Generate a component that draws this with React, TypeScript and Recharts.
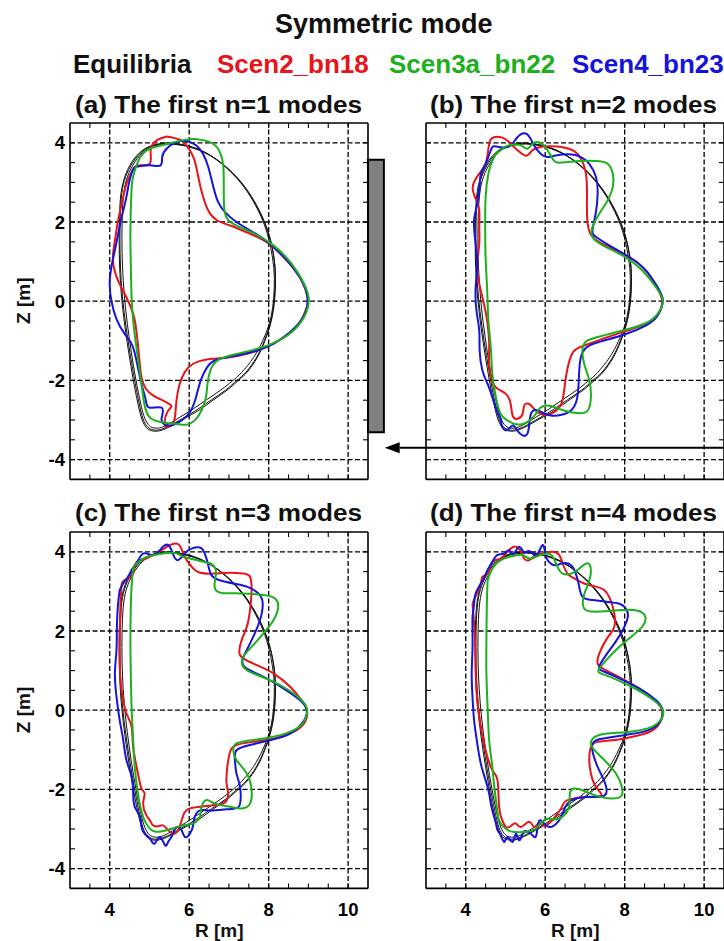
import React from 'react';
import { LineChart, Line, XAxis, YAxis, ReferenceArea, ReferenceLine } from 'recharts';

type Pt = [number, number];

const FONT = "'Liberation Sans', Arial, Helvetica, sans-serif";

// Axis ranges and ticks (R and Z in metres)
const R_DOMAIN: [number, number] = [3, 10.5];
const Z_DOMAIN: [number, number] = [-4.5, 4.5];
const R_LABEL_TICKS = [4, 6, 8, 10];
const Z_LABEL_TICKS = [-4, -2, 0, 2, 4];
const R_MINOR_TICKS = [3.5, 4, 4.5, 5, 5.5, 6, 6.5, 7, 7.5, 8, 8.5, 9, 9.5, 10];
const Z_MINOR_TICKS = [-4, -3.5, -3, -2.5, -2, -1.5, -1, -0.5, 0, 0.5, 1, 1.5, 2, 2.5, 3, 3.5, 4];

const FIGURE_TITLE = 'Symmetric mode';
const SERIES_NAMES = ['Equilibria', 'Scen2_bn18', 'Scen3a_bn22', 'Scen4_bn23'];
const SERIES_COLORS = ['#111111', '#e8141a', '#1cb01c', '#1414dc'];
const PANEL_TITLES = [
  '(a) The first n=1 modes',
  '(b) The first n=2 modes',
  '(c) The first n=3 modes',
  '(d) The first n=4 modes',
];

// Equilibrium boundaries (R, Z)
const eqScen2: Pt[] = [
  [5.45, 4.0], [5.8, 3.96], [6.2, 3.85], [6.6, 3.64], [7.0, 3.33], [7.36, 2.94], [7.68, 2.45],
  [7.93, 1.92], [8.08, 1.4], [8.16, 0.85], [8.17, 0.35], [8.13, -0.15], [8.04, -0.6], [7.91, -0.99],
  [7.72, -1.41], [7.46, -1.79], [7.24, -2.0], [6.95, -2.25], [6.6, -2.5], [6.25, -2.75], [5.85, -2.98],
  [5.55, -3.15], [5.3, -3.26], [5.1, -3.28], [4.93, -3.2], [4.8, -2.95], [4.68, -2.45], [4.56, -1.8],
  [4.44, -1.05], [4.34, -0.3], [4.27, 0.45], [4.24, 1.2], [4.24, 1.95], [4.27, 2.6], [4.35, 3.05],
  [4.5, 3.42], [4.74, 3.74], [5.06, 3.93],
];
const eqScen3a: Pt[] = [
  [5.5, 3.97], [5.85, 3.93], [6.25, 3.81], [6.65, 3.6], [7.03, 3.28], [7.38, 2.88], [7.68, 2.4],
  [7.91, 1.88], [8.05, 1.36], [8.13, 0.83], [8.14, 0.33], [8.1, -0.17], [8.0, -0.62], [7.84, -1.02],
  [7.62, -1.42], [7.32, -1.8], [7.08, -2.02], [6.8, -2.24], [6.45, -2.48], [6.1, -2.72], [5.75, -2.94],
  [5.45, -3.12], [5.25, -3.2], [5.07, -3.19], [4.94, -3.07], [4.83, -2.8], [4.72, -2.3], [4.6, -1.65],
  [4.49, -0.92], [4.4, -0.2], [4.34, 0.52], [4.31, 1.22], [4.31, 1.95], [4.34, 2.6], [4.42, 3.06],
  [4.58, 3.43], [4.82, 3.75], [5.12, 3.92],
];
const eqScen4: Pt[] = [
  [5.47, 3.99], [5.81, 3.95], [6.21, 3.84], [6.61, 3.63], [7.0, 3.32], [7.36, 2.93], [7.68, 2.44],
  [7.92, 1.91], [8.08, 1.39], [8.16, 0.85], [8.16, 0.35], [8.12, -0.15], [8.03, -0.6], [7.89, -1.0],
  [7.7, -1.41], [7.43, -1.79], [7.2, -2.0], [6.91, -2.25], [6.56, -2.49], [6.2, -2.74], [5.82, -2.97],
  [5.52, -3.14], [5.28, -3.24], [5.09, -3.25], [4.93, -3.15], [4.81, -2.88], [4.7, -2.38], [4.58, -1.73],
  [4.46, -0.99], [4.36, -0.26], [4.29, 0.48], [4.26, 1.21], [4.26, 1.95], [4.29, 2.6], [4.37, 3.05],
  [4.53, 3.42], [4.77, 3.74], [5.08, 3.93],
];

// n=1 perturbed boundaries
const n1Scen2: Pt[] = [
  [5.43, 4.16], [5.76, 4.08], [5.95, 3.91], [6.12, 3.6], [6.23, 3.13], [6.34, 2.67], [6.48, 2.29],
  [6.69, 2.05], [7.03, 1.91], [7.45, 1.74], [7.95, 1.49], [8.45, 1.03], [8.83, 0.52], [8.98, 0.1],
  [8.96, -0.15], [8.79, -0.53], [8.45, -0.87], [7.95, -1.15], [7.45, -1.33], [6.94, -1.43], [6.44, -1.47],
  [6.1, -1.58], [5.89, -1.79], [5.75, -2.13], [5.68, -2.51], [5.65, -2.85], [5.6, -3.08], [5.47, -3.17],
  [5.38, -3.08], [5.46, -2.78], [5.55, -2.64], [5.34, -2.51], [5.09, -2.38], [4.91, -2.21], [4.8, -1.92],
  [4.74, -1.41], [4.67, -0.74], [4.59, -0.32], [4.42, 0.1], [4.21, 0.52], [4.08, 1.03], [4.13, 1.53],
  [4.21, 2.04], [4.32, 2.54], [4.42, 2.96], [4.55, 3.26], [4.71, 3.43], [5.01, 3.47], [5.03, 3.81],
  [5.18, 4.06],
];
const n1Scen3a: Pt[] = [
  [4.63, 3.3], [4.77, 3.64], [5.01, 3.85], [5.43, 3.97], [5.93, 4.08], [6.27, 4.08], [6.61, 3.97],
  [6.79, 3.72], [6.86, 3.39], [6.87, 2.88], [6.88, 2.37], [6.96, 2.08], [7.19, 1.91], [7.61, 1.72],
  [8.12, 1.41], [8.58, 0.94], [8.89, 0.44], [9.01, 0.02], [8.89, -0.4], [8.58, -0.78], [8.12, -1.06],
  [7.61, -1.23], [7.11, -1.35], [6.73, -1.48], [6.54, -1.73], [6.46, -2.09], [6.42, -2.43], [6.31, -2.76],
  [6.14, -3.01], [5.93, -3.12], [5.68, -3.1], [5.39, -3.07], [5.13, -3.01], [4.97, -2.89], [4.88, -2.64],
  [4.82, -2.26], [4.74, -1.67], [4.66, -1.08], [4.59, -0.49], [4.55, 0.1], [4.53, 0.94], [4.52, 1.79],
  [4.54, 2.63], [4.57, 3.05],
];
const n1Scen4: Pt[] = [
  [4.63, 3.39], [5.01, 3.43], [5.28, 3.43], [5.32, 3.64], [5.43, 3.85], [5.68, 4.02], [5.95, 4.04],
  [6.18, 3.93], [6.35, 3.72], [6.48, 3.39], [6.61, 2.88], [6.73, 2.5], [6.9, 2.25], [7.19, 2.0],
  [7.61, 1.74], [8.03, 1.45], [8.54, 0.94], [8.87, 0.44], [8.98, 0.02], [8.87, -0.4], [8.54, -0.78],
  [8.12, -1.08], [7.7, -1.25], [7.19, -1.37], [6.69, -1.48], [6.45, -1.67], [6.29, -2.0], [6.17, -2.43],
  [6.02, -2.8], [5.81, -3.01], [5.53, -3.14], [5.34, -3.08], [5.31, -2.93], [5.31, -2.69], [5.01, -2.69],
  [4.91, -2.51], [4.8, -2.09], [4.69, -1.58], [4.57, -1.12], [4.38, -0.83], [4.17, -0.45], [4.04, 0.02],
  [4.0, 0.52], [4.08, 1.06], [4.18, 1.53], [4.28, 2.04], [4.4, 2.54], [4.48, 2.96], [4.56, 3.26],
];

// n=2 perturbed boundaries
const n2Scen2: Pt[] = [
  [4.61, 4.06], [4.71, 4.14], [4.92, 4.13], [5.09, 4.02], [5.26, 3.85], [5.43, 3.71], [5.55, 3.68],
  [5.68, 3.81], [5.85, 3.89], [6.1, 3.91], [6.44, 3.89], [6.73, 3.79], [6.9, 3.6], [7.01, 3.3],
  [7.05, 2.88], [7.05, 2.37], [7.07, 1.95], [7.15, 1.68], [7.36, 1.49], [7.7, 1.32], [8.12, 1.11],
  [8.45, 0.86], [8.71, 0.52], [8.89, 0.19], [8.94, -0.07], [8.79, -0.4], [8.45, -0.61], [7.95, -0.78],
  [7.45, -0.95], [6.98, -1.12], [6.73, -1.25], [6.61, -1.5], [6.52, -1.92], [6.45, -2.43], [6.35, -2.69],
  [6.14, -2.85], [5.89, -2.85], [5.72, -2.72], [5.58, -2.59], [5.47, -2.64], [5.43, -2.85], [5.3, -2.97],
  [5.18, -2.89], [5.13, -2.59], [5.01, -2.34], [4.8, -2.21], [4.66, -2.0], [4.59, -1.58], [4.59, -1.08],
  [4.55, -0.57], [4.46, -0.07], [4.34, 0.44], [4.29, 0.94], [4.34, 1.45], [4.34, 1.87], [4.34, 2.29],
  [4.27, 2.54], [4.18, 2.8], [4.21, 3.01], [4.34, 3.22], [4.5, 3.47], [4.57, 3.85],
];
const n2Scen3a: Pt[] = [
  [4.76, 3.72], [5.01, 3.91], [5.26, 3.96], [5.42, 3.92], [5.55, 3.85], [5.68, 3.97], [5.81, 4.02],
  [5.97, 3.93], [6.14, 3.68], [6.27, 3.51], [6.52, 3.51], [6.86, 3.54], [7.28, 3.54], [7.57, 3.47],
  [7.7, 3.22], [7.7, 2.88], [7.57, 2.54], [7.36, 2.21], [7.19, 1.87], [7.19, 1.62], [7.45, 1.41],
  [7.95, 1.15], [8.45, 0.77], [8.79, 0.35], [8.96, 0.02], [8.83, -0.32], [8.5, -0.57], [7.95, -0.74],
  [7.45, -0.87], [7.07, -0.99], [6.94, -1.2], [6.98, -1.58], [7.11, -2.0], [7.15, -2.43], [7.07, -2.76],
  [6.86, -2.83], [6.61, -2.8], [6.35, -2.72], [6.1, -2.64], [5.89, -2.68], [5.76, -2.85], [5.61, -3.01],
  [5.43, -3.1], [5.22, -3.1], [5.05, -3.01], [4.88, -2.85], [4.76, -2.43], [4.67, -1.84], [4.63, -1.16],
  [4.57, -0.49], [4.54, 0.27], [4.5, 1.11], [4.49, 1.95], [4.5, 2.63], [4.57, 3.22], [4.67, 3.55],
];
const n2Scen4: Pt[] = [
  [5.18, 3.97], [5.3, 4.14], [5.47, 4.24], [5.61, 4.14], [5.72, 3.93], [5.89, 3.72], [6.06, 3.64],
  [6.27, 3.68], [6.61, 3.71], [6.9, 3.64], [7.11, 3.47], [7.28, 3.13], [7.32, 2.71], [7.27, 2.21],
  [7.19, 1.79], [7.28, 1.62], [7.61, 1.41], [8.12, 1.11], [8.54, 0.77], [8.83, 0.35], [8.96, 0.02],
  [8.83, -0.36], [8.54, -0.61], [8.03, -0.83], [7.53, -0.98], [7.11, -1.12], [6.94, -1.29], [6.87, -1.58],
  [6.84, -2.09], [6.79, -2.51], [6.65, -2.76], [6.44, -2.86], [6.18, -2.89], [5.97, -2.83], [5.76, -2.75],
  [5.64, -2.85], [5.6, -3.1], [5.55, -3.35], [5.43, -3.39], [5.3, -3.27], [5.18, -3.14], [5.05, -3.25],
  [4.92, -3.18], [4.88, -2.97], [4.8, -2.8], [4.67, -2.43], [4.55, -2.09], [4.42, -1.75], [4.35, -1.25],
  [4.34, -0.74], [4.27, -0.24], [4.25, 0.35], [4.29, 0.94], [4.24, 1.53], [4.21, 2.04], [4.29, 2.46],
  [4.35, 2.88], [4.38, 3.22], [4.5, 3.47], [4.63, 3.81], [4.71, 3.91], [4.88, 3.89], [5.05, 3.89],
];

// n=3 perturbed boundaries
const n3Scen2: Pt[] = [
  [4.29, 3.03], [4.32, 3.24], [4.46, 3.33], [4.59, 3.45], [4.63, 3.66], [4.76, 3.79], [4.92, 3.83],
  [5.09, 3.92], [5.3, 4.04], [5.51, 4.17], [5.68, 4.21], [5.78, 4.13], [5.85, 3.96], [5.95, 3.77],
  [6.1, 3.58], [6.27, 3.47], [6.61, 3.45], [7.03, 3.47], [7.36, 3.45], [7.53, 3.37], [7.57, 3.03],
  [7.53, 2.53], [7.45, 2.11], [7.32, 1.77], [7.26, 1.47], [7.36, 1.31], [7.7, 1.14], [8.12, 0.93],
  [8.54, 0.59], [8.83, 0.25], [8.96, 0], [8.92, -0.29], [8.62, -0.55], [8.12, -0.72], [7.61, -0.8],
  [7.19, -0.88], [7.03, -1.05], [6.96, -1.43], [6.94, -1.85], [6.98, -2.15], [6.86, -2.36], [6.61, -2.4],
  [6.27, -2.44], [6.02, -2.48], [5.89, -2.57], [5.81, -2.78], [5.72, -3.03], [5.6, -3.12], [5.47, -3.03],
  [5.34, -2.91], [5.22, -2.93], [5.08, -2.9], [5.01, -2.78], [4.92, -2.65], [4.84, -2.36], [4.88, -2.11],
  [4.8, -1.98], [4.71, -1.6], [4.59, -0.93], [4.55, -0.42], [4.42, -0.08], [4.34, 0.25], [4.27, 0.76],
  [4.25, 1.35], [4.25, 1.94], [4.27, 2.44], [4.27, 2.69],
];
const n3Scen3a: Pt[] = [
  [4.59, 3.62], [4.84, 3.83], [5.13, 3.92], [5.43, 3.97], [5.68, 3.96], [5.85, 3.87], [6.02, 3.83],
  [6.27, 3.77], [6.52, 3.71], [6.67, 3.54], [6.65, 3.28], [6.65, 3.07], [6.82, 2.96], [7.28, 2.95],
  [7.87, 2.91], [8.16, 2.82], [8.24, 2.61], [8.12, 2.27], [7.87, 1.94], [7.57, 1.6], [7.36, 1.35],
  [7.34, 1.14], [7.53, 0.97], [8.03, 0.76], [8.5, 0.51], [8.83, 0.25], [8.97, 0], [8.89, -0.29],
  [8.62, -0.51], [8.12, -0.67], [7.57, -0.76], [7.19, -0.84], [7.11, -1.01], [7.19, -1.26], [7.45, -1.6],
  [7.57, -2.02], [7.53, -2.36], [7.32, -2.48], [7.03, -2.44], [6.65, -2.36], [6.44, -2.27], [6.31, -2.44],
  [6.27, -2.69], [6.1, -2.86], [5.85, -2.91], [5.64, -2.97], [5.43, -3.03], [5.18, -3.07], [5.01, -2.99],
  [4.84, -2.69], [4.71, -2.11], [4.63, -1.43], [4.59, -0.76], [4.55, 0.08], [4.53, 0.93], [4.52, 1.77],
  [4.53, 2.61], [4.55, 3.12],
];
const n3Scen4: Pt[] = [
  [4.25, 3.03], [4.34, 3.2], [4.46, 3.37], [4.55, 3.54], [4.67, 3.71], [4.8, 3.92], [4.92, 3.96],
  [5.09, 3.92], [5.26, 4.04], [5.39, 4.17], [5.51, 4.13], [5.6, 3.92], [5.72, 3.79], [5.89, 3.96],
  [6.06, 4.08], [6.27, 4.11], [6.39, 3.96], [6.48, 3.66], [6.56, 3.41], [6.77, 3.28], [7.11, 3.2],
  [7.45, 3.12], [7.74, 2.95], [7.85, 2.69], [7.78, 2.27], [7.61, 1.85], [7.45, 1.52], [7.34, 1.26],
  [7.45, 1.05], [7.87, 0.84], [8.37, 0.55], [8.79, 0.25], [8.96, 0], [8.87, -0.29], [8.54, -0.59],
  [8.03, -0.76], [7.53, -0.88], [7.19, -1.01], [7.15, -1.26], [7.19, -1.6], [7.28, -1.94], [7.28, -2.36],
  [7.15, -2.48], [6.86, -2.51], [6.52, -2.53], [6.27, -2.53], [6.14, -2.69], [6.1, -2.9], [6.02, -3.12],
  [5.89, -3.2], [5.81, -3.03], [5.68, -2.95], [5.58, -3.15], [5.47, -3.33], [5.39, -3.41], [5.26, -3.2],
  [5.13, -3.37], [5.01, -3.24], [4.88, -3.12], [4.8, -2.95], [4.76, -2.69], [4.63, -2.44], [4.59, -2.11],
  [4.55, -1.68], [4.42, -1.26], [4.34, -0.76], [4.25, -0.25], [4.17, 0.34], [4.13, 0.93], [4.17, 1.52],
  [4.18, 2.11], [4.21, 2.69],
];

// n=4 perturbed boundaries
const n4Scen2: Pt[] = [
  [4.17, 2.69], [4.24, 2.86], [4.38, 3.2], [4.42, 3.37], [4.55, 3.45], [4.63, 3.66], [4.74, 3.79],
  [4.88, 3.83], [5.01, 3.96], [5.13, 4.08], [5.26, 4.13], [5.39, 4.0], [5.47, 3.83], [5.6, 3.79],
  [5.76, 3.92], [5.93, 3.96], [6.18, 4.0], [6.35, 3.92], [6.44, 3.71], [6.56, 3.45], [6.73, 3.33],
  [6.98, 3.2], [7.28, 3.12], [7.49, 3.03], [7.61, 2.86], [7.7, 2.61], [7.76, 2.27], [7.7, 2.02],
  [7.53, 1.77], [7.36, 1.43], [7.32, 1.18], [7.45, 1.05], [7.78, 0.88], [8.29, 0.59], [8.71, 0.29],
  [8.94, 0], [8.87, -0.34], [8.62, -0.55], [8.2, -0.67], [7.7, -0.76], [7.32, -0.8], [7.15, -0.93],
  [7.11, -1.26], [7.15, -1.6], [7.28, -1.94], [7.41, -2.15], [7.03, -2.19], [6.56, -2.27], [6.44, -2.4],
  [6.31, -2.61], [6.02, -2.91], [5.85, -2.85], [5.72, -2.95], [5.6, -2.82], [5.39, -2.95], [5.26, -2.86],
  [5.13, -2.93], [5.01, -2.95], [4.92, -2.78], [4.84, -2.44], [4.8, -1.77], [4.67, -1.52], [4.5, -1.01],
  [4.38, -0.42], [4.29, 0.25], [4.25, 0.93], [4.24, 1.6], [4.21, 2.19],
];
const n4Scen3a: Pt[] = [
  [4.55, 3.28], [4.67, 3.58], [4.88, 3.79], [5.18, 3.89], [5.43, 3.92], [5.6, 3.83], [5.81, 3.89],
  [6.06, 3.96], [6.2, 3.86], [6.31, 3.62], [6.44, 3.45], [6.65, 3.45], [6.86, 3.58], [7.07, 3.71],
  [7.15, 3.49], [7.07, 3.16], [6.96, 2.84], [6.98, 2.57], [7.19, 2.49], [7.53, 2.5], [7.95, 2.53],
  [8.33, 2.51], [8.52, 2.36], [8.45, 2.12], [8.16, 1.85], [7.82, 1.56], [7.53, 1.26], [7.34, 1.01],
  [7.45, 0.91], [7.82, 0.76], [8.33, 0.51], [8.75, 0.24], [8.97, -0.02], [8.87, -0.29], [8.58, -0.46],
  [8.08, -0.55], [7.57, -0.59], [7.26, -0.67], [7.15, -0.83], [7.24, -1.01], [7.49, -1.26], [7.78, -1.6],
  [7.93, -1.94], [7.91, -2.17], [7.66, -2.23], [7.32, -2.17], [6.98, -2.04], [6.73, -1.98], [6.62, -2.11],
  [6.61, -2.4], [6.48, -2.65], [6.27, -2.76], [6.06, -2.74], [5.89, -2.85], [5.75, -3.0], [5.55, -3.07],
  [5.34, -3.08], [5.13, -3.06], [4.97, -2.96], [4.84, -2.78], [4.77, -2.36], [4.71, -1.85], [4.66, -1.35],
  [4.59, -0.76], [4.55, 0.08], [4.52, 0.93], [4.52, 1.77], [4.53, 2.61],
];
const n4Scen4: Pt[] = [
  [4.17, 2.36], [4.21, 2.69], [4.25, 2.95], [4.38, 3.2], [4.47, 3.36], [4.55, 3.54], [4.67, 3.75],
  [4.8, 3.92], [4.97, 3.96], [5.09, 4.04], [5.2, 3.94], [5.34, 4.13], [5.47, 3.98], [5.6, 4.02],
  [5.78, 3.92], [5.93, 4.17], [6.0, 3.96], [6.06, 3.79], [6.23, 3.66], [6.44, 3.71], [6.65, 3.66],
  [6.77, 3.45], [6.85, 3.15], [6.94, 2.86], [7.19, 2.78], [7.53, 2.74], [7.87, 2.69], [8.03, 2.57],
  [8.08, 2.36], [7.95, 2.02], [7.74, 1.68], [7.53, 1.39], [7.36, 1.09], [7.49, 0.97], [7.87, 0.8],
  [8.37, 0.55], [8.79, 0.25], [8.96, -0.02], [8.87, -0.32], [8.58, -0.51], [8.12, -0.61], [7.61, -0.69],
  [7.28, -0.76], [7.18, -0.93], [7.24, -1.22], [7.36, -1.52], [7.51, -1.85], [7.53, -2.11], [7.36, -2.19],
  [7.07, -2.19], [6.77, -2.23], [6.56, -2.36], [6.45, -2.58], [6.35, -2.78], [6.1, -2.95], [5.89, -2.78],
  [5.81, -2.95], [5.76, -3.2], [5.64, -3.12], [5.5, -3.05], [5.43, -3.12], [5.34, -3.28], [5.26, -3.12],
  [5.18, -3.33], [5.05, -3.2], [4.97, -3.33], [4.88, -3.16], [4.8, -3.03], [4.76, -2.86], [4.69, -2.61],
  [4.63, -2.36], [4.59, -2.11], [4.5, -1.77], [4.38, -1.35], [4.29, -0.84], [4.21, -0.25], [4.17, 0.34],
  [4.15, 0.93], [4.17, 1.52], [4.17, 2.02],
];

// Closes a boundary loop and converts it to the row shape the chart reads.
const loop = (pts: Pt[]) => [...pts, pts[0]].map(([r, z]) => ({ r, z }));

const EQUILIBRIA = [eqScen2, eqScen3a, eqScen4].map(loop);

const PANEL_SERIES: Pt[][][] = [
  [n1Scen2, n1Scen4, n1Scen3a],
  [n2Scen2, n2Scen4, n2Scen3a],
  [n3Scen2, n3Scen4, n3Scen3a],
  [n4Scen2, n4Scen4, n4Scen3a],
];
// draw order: red, blue, green
const PANEL_SERIES_COLORS = [SERIES_COLORS[1], SERIES_COLORS[3], SERIES_COLORS[2]];

// Vertical bar beside panel (a) and arrow under panel (b), in R/Z units
const BAR_R: [number, number] = [10.5, 10.9];
const BAR_Z: [number, number] = [-3.31, 3.57];
const ARROW_Z = -3.7;
const ARROW_R: [number, number] = [11, 1.96];

const Y_AXIS_W = 60;
const X_AXIS_H = 50;
const PLOT_W = 298;
const PLOT_H = 356.4;
const M_TOP = 5;
const M_RIGHT = 20;
const CHART_W = Y_AXIS_W + PLOT_W + M_RIGHT;
const CHART_H = M_TOP + PLOT_H + X_AXIS_H;

const tickText = { fill: '#000', fontSize: 18.5, fontWeight: 700, fontFamily: FONT };
const frame = { stroke: '#000', strokeWidth: 1.6 };
const minorTick = { stroke: '#000', strokeWidth: 1.1 };
const NoLabel = () => <g />;

const ArrowShape = (p: any) => {
  const { x1, y1, x2, y2 } = p;
  const dir = x2 < x1 ? 1 : -1;
  const head = 15;
  return (
    <g>
      <line x1={x1} y1={y1} x2={x2 + dir * head} y2={y2} stroke="#000" strokeWidth={2} />
      <polygon
        points={`${x2},${y2} ${x2 + dir * head},${y2 - 5.5} ${x2 + dir * head},${y2 + 5.5}`}
        fill="#000"
      />
    </g>
  );
};

type PanelProps = {
  index: number;
  left: number;
  top: number;
  showR: boolean;
  showZ: boolean;
};

function Panel({ index, left, top, showR, showZ }: PanelProps) {
  const series = PANEL_SERIES[index];
  return (
    <div style={{ position: 'absolute', left, top, width: CHART_W, height: CHART_H }}>
      <LineChart
        width={CHART_W}
        height={CHART_H}
        margin={{ top: M_TOP, right: M_RIGHT, bottom: 0, left: 0 }}
      >
        <XAxis
          xAxisId="xlab"
          type="number"
          dataKey="r"
          domain={R_DOMAIN}
          allowDataOverflow
          ticks={R_LABEL_TICKS}
          interval={0}
          height={X_AXIS_H}
          axisLine={false}
          tickLine={false}
          tickSize={0}
          tickMargin={14}
          tick={showR ? tickText : false}
        />
        <XAxis
          xAxisId="xb"
          type="number"
          dataKey="r"
          orientation="bottom"
          mirror
          domain={R_DOMAIN}
          allowDataOverflow
          ticks={R_MINOR_TICKS}
          interval={0}
          height={1}
          axisLine={frame}
          tickLine={minorTick}
          tickSize={5}
          tick={NoLabel}
        />
        <XAxis
          xAxisId="xt"
          type="number"
          dataKey="r"
          orientation="top"
          mirror
          domain={R_DOMAIN}
          allowDataOverflow
          ticks={R_MINOR_TICKS}
          interval={0}
          height={1}
          axisLine={frame}
          tickLine={minorTick}
          tickSize={5}
          tick={NoLabel}
        />
        <YAxis
          yAxisId="ylab"
          type="number"
          domain={Z_DOMAIN}
          allowDataOverflow
          ticks={Z_LABEL_TICKS}
          interval={0}
          width={Y_AXIS_W}
          axisLine={false}
          tickLine={false}
          tickSize={0}
          tickMargin={5}
          tick={showZ ? tickText : false}
        />
        <YAxis
          yAxisId="yl"
          type="number"
          orientation="left"
          mirror
          domain={Z_DOMAIN}
          allowDataOverflow
          ticks={Z_MINOR_TICKS}
          interval={0}
          width={1}
          axisLine={frame}
          tickLine={minorTick}
          tickSize={5}
          tick={NoLabel}
        />
        <YAxis
          yAxisId="yr"
          type="number"
          orientation="right"
          mirror
          domain={Z_DOMAIN}
          allowDataOverflow
          ticks={Z_MINOR_TICKS}
          interval={0}
          width={1}
          axisLine={frame}
          tickLine={minorTick}
          tickSize={5}
          tick={NoLabel}
        />
        {/* dashed grid at the labelled ticks */}
        {R_LABEL_TICKS.map((v) => (
          <ReferenceLine
            key={`gx${v}`}
            xAxisId="xb"
            yAxisId="yl"
            x={v}
            stroke="#000"
            strokeWidth={1.3}
            strokeDasharray="5 2.5"
          />
        ))}
        {Z_LABEL_TICKS.map((v) => (
          <ReferenceLine
            key={`gz${v}`}
            xAxisId="xb"
            yAxisId="yl"
            y={v}
            stroke="#000"
            strokeWidth={1.3}
            strokeDasharray="5 2.5"
          />
        ))}
        {EQUILIBRIA.map((d, i) => (
          <Line
            key={`eq${i}`}
            xAxisId="xb"
            yAxisId="yl"
            data={d}
            dataKey="z"
            type="natural"
            stroke={SERIES_COLORS[0]}
            strokeWidth={1}
            dot={false}
            activeDot={false}
            isAnimationActive={false}
          />
        ))}
        {series.map((s, i) => (
          <Line
            key={`s${i}`}
            xAxisId="xb"
            yAxisId="yl"
            data={loop(s)}
            dataKey="z"
            type="natural"
            stroke={PANEL_SERIES_COLORS[i]}
            strokeWidth={2}
            dot={false}
            activeDot={false}
            isAnimationActive={false}
          />
        ))}
        {index === 0 && (
          <ReferenceArea
            xAxisId="xb"
            yAxisId="yl"
            x1={BAR_R[0]}
            x2={BAR_R[1]}
            y1={BAR_Z[0]}
            y2={BAR_Z[1]}
            ifOverflow="visible"
            fill="#808080"
            fillOpacity={1}
            stroke="#000"
            strokeWidth={2}
          />
        )}
        {index === 1 && (
          <ReferenceLine
            xAxisId="xb"
            yAxisId="yl"
            segment={[
              { x: ARROW_R[0], y: ARROW_Z },
              { x: ARROW_R[1], y: ARROW_Z },
            ]}
            ifOverflow="visible"
            shape={ArrowShape}
          />
        )}
      </LineChart>
    </div>
  );
}

const PLOT_LEFT = [70.25, 426.2];
const PLOT_TOP = [122.5, 531.9];

export default function App() {
  const legendX = [73, 217, 389, 572];
  const titleX = [75, 430, 75, 430];
  const titleY = [113, 113, 521, 521];
  return (
    <div
      style={{
        position: 'fixed',
        left: 0,
        top: 0,
        width: 724,
        height: 941,
        overflow: 'hidden',
        background: '#fff',
      }}
    >
      {[0, 1, 2, 3].map((i) => (
        <Panel
          key={i}
          index={i}
          left={PLOT_LEFT[i % 2] - Y_AXIS_W}
          top={PLOT_TOP[Math.floor(i / 2)] - M_TOP}
          showR={i >= 2}
          showZ={i % 2 === 0}
        />
      ))}
      <svg
        width={724}
        height={941}
        style={{ position: 'absolute', left: 0, top: 0, pointerEvents: 'none' }}
        fontFamily={FONT}
        fontWeight={700}
      >
        <text x={275} y={33} fontSize={27} fill="#111">
          {FIGURE_TITLE}
        </text>
        {SERIES_NAMES.map((name, i) => (
          <text key={name} x={legendX[i]} y={73} fontSize={26} fill={SERIES_COLORS[i]}>
            {name}
          </text>
        ))}
        {PANEL_TITLES.map((t, i) => (
          <text
            key={t}
            x={titleX[i]}
            y={titleY[i]}
            fontSize={23}
            fill="#111"
            textLength={287}
            lengthAdjust="spacingAndGlyphs"
          >
            {t}
          </text>
        ))}
        {[300.7, 710].map((cy) => (
          <text
            key={cy}
            x={0}
            y={0}
            fontSize={19}
            fill="#111"
            textAnchor="middle"
            transform={`translate(30 ${cy}) rotate(-90)`}
          >
            Z [m]
          </text>
        ))}
        {[219.3, 575.2].map((cx) => (
          <text key={cx} x={cx} y={937} fontSize={19} fill="#111" textAnchor="middle">
            R [m]
          </text>
        ))}
      </svg>
    </div>
  );
}
